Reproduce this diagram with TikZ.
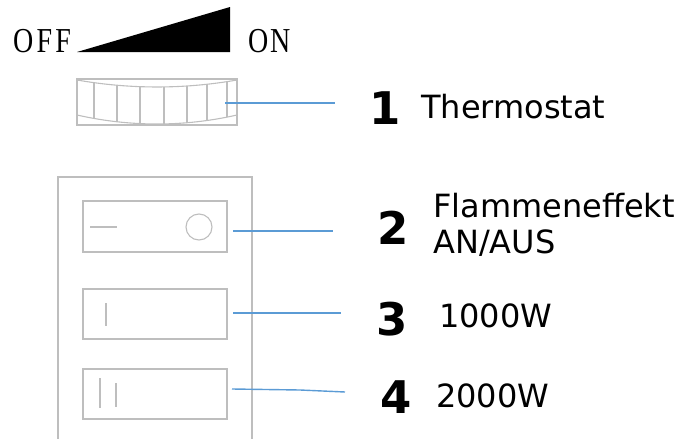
\documentclass[tikz,border=0pt]{standalone}
\usepackage{fontspec}
\setmainfont{DejaVu Sans}
\newfontfamily\offonfont{Liberation Serif}
\definecolor{leaderblue}{RGB}{91,155,213}
\definecolor{partgray}{RGB}{190,190,190}
\begin{document}
\begin{tikzpicture}[x=1pt,y=-1pt,
  part/.style={draw=partgray, line width=1.1pt},
  leader/.style={draw=leaderblue, line width=1.4pt},
  num/.style={font=\fontsize{45}{45}\selectfont\bfseries, inner sep=0pt},
  lbl/.style={font=\fontsize{32}{36}\selectfont, inner sep=0pt, anchor=base west},
  scaletext/.style={font=\fontsize{35}{35}\offonfont, inner sep=0pt, anchor=base west}]
\useasboundingbox (0,0) rectangle (683,439);

% OFF / ON scale
\node[scaletext] (off) at (13,52) {\scalebox{0.8}[1]{O\kern4pt F\kern4pt F}};
\node[scaletext] (on) at (248,52) {\scalebox{0.8}[1]{O\kern2pt N}};
\fill (77,52) -- (230,52) -- (230,7) -- cycle;

% thermostat wheel
\draw[part] (77,79) rectangle (237,125);
\draw[part] (77,80) .. controls (130,89.3) and (184,89.3) .. (237,80);
\draw[part] (77,115) .. controls (130,127) and (184,127) .. (237,115);
\foreach \x/\a/\b in {94/82.7/118.4, 117/85.3/121.8, 140/86.7/123.6, 164/86.9/123.9, 187/86.0/122.7, 207/84.3/120.5, 227/81.6/117.1}
  \draw[part] (\x,\a) -- (\x,\b);

% switch panel
\draw[part] (58,439) -- (58,177) -- (252,177) -- (252,439);
\draw[part] (83,201) rectangle (227,252);
\draw[part] (90,227) -- (117,227);
\draw[part] (199,227) circle (13);
\draw[part] (83,289) rectangle (227,339);
\draw[part] (106,303) -- (106,326);
\draw[part] (83,369) rectangle (227,419);
\draw[part] (100,378) -- (100,408);
\draw[part] (116,383) -- (116,407);

% leader coordinates
\coordinate (s1) at (225,103);
\coordinate (e1) at (335,103);
\coordinate (s2) at (233,231);
\coordinate (e2) at (333,231);
\coordinate (s3) at (233,313);
\coordinate (e3) at (341,313);
\coordinate (s4) at (232,389);
\coordinate (m4) at (300,390);
\coordinate (e4) at (345,392);
\draw[leader] (s1) -- (e1);
\draw[leader] (s2) -- (e2);
\draw[leader] (s3) -- (e3);
\draw[leader] (s4) -- (m4) -- (e4);

% numbers and labels
\node[num] (n1) at (385,108) {1};
\node[lbl] (t1) at (421,118) {Thermostat};
\node[num] (n2) at (393,228) {2};
\node[lbl] (t2a) at (433,217) {Flammeneffekt};
\node[lbl] (t2b) at (433,253) {AN/AUS};
\node[num] (n3) at (392,319) {3};
\node[lbl] (t3) at (439,327) {1000W};
\node[num] (n4) at (396,397) {4};
\node[lbl] (t4) at (436,407) {2000W};
\end{tikzpicture}
\end{document}
